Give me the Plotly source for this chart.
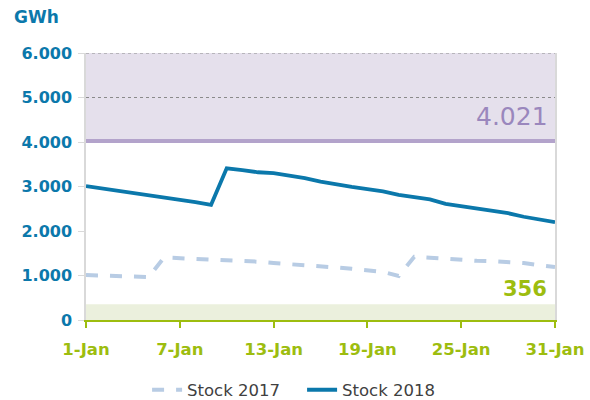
import plotly.graph_objects as go

# Daily gas storage level, January (GWh)
days = list(range(1, 32))
stock_2017 = [1010, 1000, 990, 975, 965, 1405, 1390, 1380, 1370, 1355,
              1335, 1310, 1280, 1260, 1240, 1210, 1180, 1150, 1110, 1080,
              990, 1420, 1400, 1370, 1350, 1330, 1320, 1310, 1280, 1230, 1190]
stock_2018 = [3010, 2960, 2910, 2860, 2810, 2770, 2720, 2650, 2590, 3410,
              3370, 3320, 3300, 3250, 3190, 3110, 3040, 2990, 2940, 2890,
              2810, 2760, 2710, 2610, 2560, 2510, 2450, 2400, 2320, 2250, 2200]

tick_days = [1, 7, 13, 19, 25, 31]
tick_labels = ["1-Jan", "7-Jan", "13-Jan", "19-Jan", "25-Jan", "31-Jan"]
y_ticks = [0, 1000, 2000, 3000, 4000, 5000, 6000]
y_labels = ["0", "1.000", "2.000", "3.000", "4.000", "5.000", "6.000"]

upper_level = 4021
lower_level = 356
y_max = 6000

FONT = "DejaVu Sans, Verdana, sans-serif"
BLUE = "#0b78ab"
LIGHT = "#b8cce4"
GREEN = "#9dbd0f"
PURPLE = "#b3a3cb"

L_MARGIN, R_MARGIN = 86, 35
plot_w = 590 - L_MARGIN - R_MARGIN

fig = go.Figure()
fig.add_trace(go.Scatter(x=days, y=stock_2017, mode="lines", name="Stock 2017",
                         line=dict(color=LIGHT, width=4, dash="dash")))
fig.add_trace(go.Scatter(x=days, y=stock_2018, mode="lines", name="Stock 2018",
                         line=dict(color=BLUE, width=3.8)))

# shaded bands and reference lines
fig.add_shape(type="rect", xref="paper", x0=0, x1=1, y0=upper_level, y1=y_max,
              fillcolor="#e5e0ec", line_width=0, layer="below")
fig.add_shape(type="rect", xref="paper", x0=0, x1=1, y0=0, y1=lower_level,
              fillcolor="#ebf0dd", line_width=0, layer="below")
for lvl in (5000, 6000):
    fig.add_shape(type="line", xref="paper", x0=0, x1=1, y0=lvl, y1=lvl,
                  line=dict(color="#8a8a8a", width=1, dash="dot"), layer="below")
fig.add_shape(type="line", xref="paper", x0=0, x1=1, y0=upper_level, y1=upper_level,
              line=dict(color=PURPLE, width=4), layer="below")

fig.add_annotation(x=1, xref="paper", y=upper_level, yref="y", text="4.021",
                   showarrow=False, xanchor="right", yanchor="bottom", xshift=-5, yshift=8,
                   font=dict(family=FONT, size=25, color="#9a87bd"))
fig.add_annotation(x=1, xref="paper", y=lower_level, yref="y", text="<b>356</b>",
                   showarrow=False, xanchor="right", yanchor="bottom", xshift=-6, yshift=1,
                   font=dict(family=FONT, size=21, color=GREEN))
fig.add_annotation(x=-(L_MARGIN - 12) / plot_w, xref="paper", y=1, yref="paper",
                   text="<b>GWh</b>", showarrow=False, xanchor="left", yanchor="bottom",
                   yshift=24, font=dict(family=FONT, size=17, color=BLUE))

fig.update_layout(
    width=590, height=400,
    margin=dict(l=L_MARGIN, r=R_MARGIN, t=53, b=80, autoexpand=False),
    paper_bgcolor="white", plot_bgcolor="white",
    font=dict(family=FONT),
    showlegend=True,
    legend=dict(orientation="h", xref="container", yref="container",
                x=0.512, y=0.025, xanchor="center", yanchor="middle",
                entrywidth=110,
                font=dict(family=FONT, size=16.5, color="#404040")),
    xaxis=dict(range=[1, 31], tickvals=tick_days,
               ticktext=[f"<b>{t}</b>" for t in tick_labels],
               showgrid=False, zeroline=False, automargin=False,
               showline=True, linecolor=GREEN, linewidth=2,
               ticks="outside", ticklen=6, tickcolor=GREEN, tickwidth=1.5,
               ticklabelstandoff=7,
               tickfont=dict(family=FONT, size=16.5, color=GREEN)),
    yaxis=dict(range=[0, y_max], tickvals=y_ticks,
               ticktext=[f"<b>{t}</b>" for t in y_labels],
               showgrid=False, zeroline=False, automargin=False,
               showline=True, linecolor="#d9d9d9", linewidth=1.5, mirror=True,
               ticks="outside", ticklen=6, tickcolor="#d9d9d9",
               ticklabelstandoff=3,
               tickfont=dict(family=FONT, size=16, color=BLUE)),
)

fig.write_html("out.html")
